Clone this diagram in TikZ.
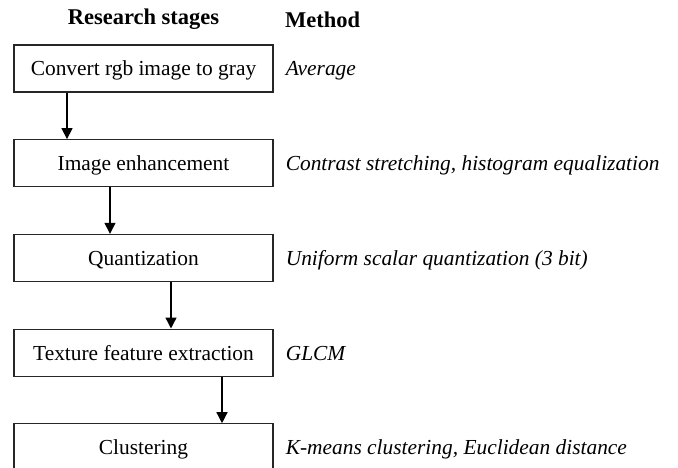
\documentclass[tikz,border=0pt]{standalone}
\usepackage{fontspec}
\setmainfont{Liberation Serif}
\usepackage{tikz}
\usetikzlibrary{positioning, arrows.meta}

\begin{document}
\begin{tikzpicture}[x=1pt, y=-1pt, font=\fontsize{21.4pt}{25pt}\selectfont, >={Triangle[width=11pt, length=11pt]},
  headtext/.style={inner sep=0pt, font=\fontsize{22.5pt}{26pt}\selectfont\bfseries},
  stagebox/.style={rectangle, draw=black!85, line width=1.2pt, minimum width=259pt, minimum height=47pt, inner sep=0pt, text height=17pt, text depth=2pt},
  methodtext/.style={inner sep=0pt, anchor=west, text height=17pt, text depth=2pt, font=\fontsize{21.4pt}{25pt}\selectfont\itshape},
  flow/.style={->, line width=1.4pt}]
  \useasboundingbox (0,0) rectangle (678,468);
  \node[headtext] (hstage) at (143.5,19.5) {Research stages};
  \node[stagebox] (s1) at (143.5,68.5) {Convert rgb image to gray};
  \node[stagebox, below=46.5pt of s1] (s2) {Image enhancement};
  \node[stagebox, below=46.5pt of s2] (s3) {Quantization};
  \node[stagebox, below=46.5pt of s3] (s4) {Texture feature extraction};
  \node[stagebox, below=46.5pt of s4] (s5) {Clustering};
  \node[headtext, anchor=west] (hmethod) at (285,19.5) {Method};
  \node[methodtext, right=12pt of s1] (m1) {Average};
  \node[methodtext, right=12pt of s2] (m2) {Contrast stretching, histogram equalization};
  \node[methodtext, right=12pt of s3] (m3) {Uniform scalar quantization (3 bit)};
  \node[methodtext, right=12pt of s4] (m4) {GLCM};
  \node[methodtext, right=12pt of s5] (m5) {K-means clustering, Euclidean distance};
  \draw[flow] ([xshift=-76.5pt]s1.south) -- ([xshift=-76.5pt]s2.north);
  \draw[flow] ([xshift=-33.5pt]s2.south) -- ([xshift=-33.5pt]s3.north);
  \draw[flow] ([xshift=27.5pt]s3.south) -- ([xshift=27.5pt]s4.north);
  \draw[flow] ([xshift=78.5pt]s4.south) -- ([xshift=78.5pt]s5.north);
\end{tikzpicture}
\end{document}
